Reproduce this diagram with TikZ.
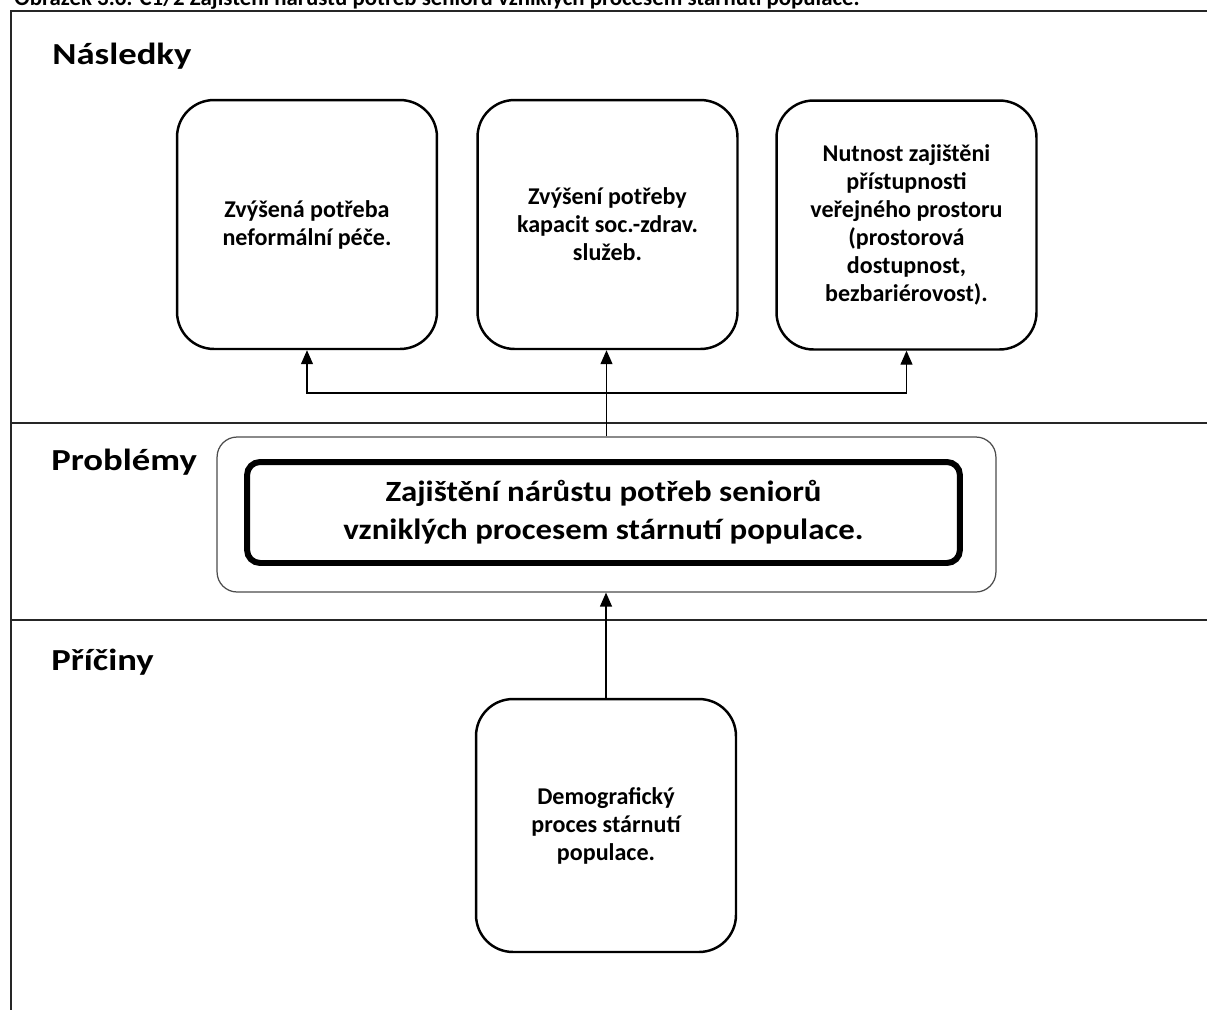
\documentclass[tikz,border=0pt]{standalone}
\usepackage{fontspec}
\setmainfont{Carlito}
\newfontfamily\widefont[FakeStretch=1.2]{Carlito}
\newfontfamily\midfont[FakeStretch=1.12]{Carlito}
\usetikzlibrary{arrows.meta}
\begin{document}
\begin{tikzpicture}[x=0.02cm,y=-0.02cm,
  frameline/.style={line width=0.9pt, black!85},
  seclabel/.style={anchor=base west, inner sep=0pt, font=\widefont\bfseries\fontsize{17.4}{20}\selectfont},
  cbox/.style={draw, line width=1.4pt, rounded corners=0.74cm, minimum width=5.2cm, minimum height=4.98cm,
    align=center, inner sep=0pt, font=\bfseries\fontsize{13.7}{15.9}\selectfont},
  outerbox/.style={draw=black!70, line width=0.7pt, rounded corners=0.4cm, minimum width=15.58cm, minimum height=3.1cm, inner sep=0pt},
  innerbox/.style={draw, line width=3.4pt, rounded corners=0.26cm, minimum width=14.26cm, minimum height=2.02cm,
    align=center, inner sep=0pt, font=\midfont\bfseries\fontsize{16.7}{21.6}\selectfont},
  conn/.style={line width=0.7pt, -{Triangle[length=2.8mm,width=2.4mm]}}
]
\useasboundingbox (0,0) rectangle (1207,1009);
% caption (cut off at the top edge, as in the reference)
\node[anchor=base west, inner sep=0pt, font=\bfseries\fontsize{13}{15}\selectfont] (cap) at (14,5)
  {Obrázek 3.6: C1/2 Zajištění nárůstu potřeb seniorů vzniklých procesem stárnutí populace.};
% frame
\coordinate (fbl) at (11,1012);
\coordinate (ftl) at (11,11);
\coordinate (ftr) at (1210,11);
\draw[frameline] (fbl) -- (ftl) -- (ftr);
\coordinate (l1a) at (11,423); \coordinate (l1b) at (1210,423);
\coordinate (l2a) at (11,620); \coordinate (l2b) at (1210,620);
\draw[frameline] (l1a) -- (l1b);
\draw[frameline] (l2a) -- (l2b);
% section labels
\node[seclabel] (sec1) at (52,64) {Následky};
\node[seclabel] (sec2) at (51,470) {Problémy};
\node[seclabel] (sec3) at (51,670) {Příčiny};
% consequence boxes
\node[cbox] (b1) at (307,224.5) {Zvýšená potřeba\\neformální péče.};
\node[cbox] (b2) at (607.5,224.5) {Zvýšení potřeby\\kapacit soc.-zdrav.\\služeb.};
\node[cbox] (b3) at (906.5,225) {Nutnost zajištěni\\přístupnosti\\veřejného prostoru\\(prostorová\\dostupnost,\\bezbariérovost).};
% problem
\node[outerbox] (po) at (606.5,514.5) {};
\node[innerbox] (pi) at (603.5,512.5) {Zajištění nárůstu potřeb seniorů\\vzniklých procesem stárnutí populace.};
% cause
\node[cbox, minimum height=5.06cm] (b4) at (606,825.5) {Demografický\\proces stárnutí\\populace.};
% connectors
\coordinate (jn) at (po.north |- 0,393);
\draw[conn] (po.north) -- (po.north |- b2.south);
\draw[conn] (jn) -| (b1.south);
\draw[conn] (jn) -| (b3.south);
\draw[conn] (b4.north) -- (b4.north |- po.south);
\end{tikzpicture}
\end{document}
